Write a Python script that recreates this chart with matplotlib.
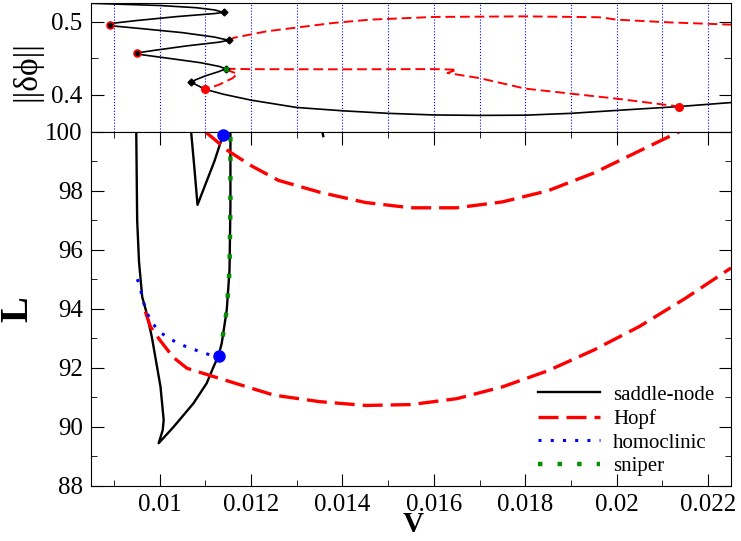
import numpy as np
import matplotlib
matplotlib.use("Agg")
import matplotlib.pyplot as plt
from matplotlib.ticker import MultipleLocator, FuncFormatter

plt.rcParams['font.family'] = 'serif'
plt.rcParams['font.serif'] = ['Liberation Serif', 'DejaVu Serif']

# ---- bottom panel data (V, L) ----
sn_V = [0.00949, 0.00951, 0.00955, 0.00962, 0.00970, 0.00983, 0.01002, 0.01009, 0.01007,
        0.00998, 0.01031, 0.01074, 0.01103, 0.01118, 0.01129, 0.01136, 0.01147, 0.01153,
        0.01155, 0.01155]
sn_L = [100.0, 97.0, 95.6, 94.4, 93.95, 93.05, 91.36, 90.23, 89.89,
        89.44, 90.0, 90.79, 91.47, 92.03, 92.41, 92.83, 93.96, 95.3,
        97.5, 100.0]
sn2_V = [0.01069, 0.01076, 0.01083, 0.01100, 0.01120, 0.01139]
sn2_L = [100.0, 98.8, 97.52, 98.2, 99.0, 99.9]
sn3_V = [0.01356, 0.01358]
sn3_L = [100.0, 99.85]

hopf1_V = [0.0110, 0.0115, 0.0120, 0.0126, 0.0135, 0.0145, 0.0155, 0.0165, 0.0175,
           0.0185, 0.0195, 0.0205, 0.02137]
hopf1_L = [100.0, 99.35, 98.85, 98.35, 97.95, 97.6, 97.42, 97.42, 97.62,
           98.0, 98.6, 99.35, 100.0]
hopf2_V = [0.00969, 0.0098, 0.0100, 0.0103, 0.0106, 0.0112, 0.0125, 0.0135, 0.0145,
           0.0155, 0.0165, 0.0175, 0.0185, 0.0195, 0.0205, 0.0215, 0.0225]
hopf2_L = [93.9, 93.39, 92.95, 92.35, 91.98, 91.69, 91.07, 90.85, 90.72,
           90.75, 90.95, 91.35, 91.9, 92.6, 93.4, 94.35, 95.38]

hom_V = [0.00951, 0.00956, 0.00962, 0.00970, 0.00983, 0.01002, 0.01027, 0.01054,
         0.01082, 0.01111, 0.01129]
hom_L = [95.0, 94.84, 94.39, 93.94, 93.53, 93.19, 92.94, 92.74, 92.58, 92.43, 92.41]

snip_V = [0.01129, 0.01136, 0.01147, 0.01153, 0.01155, 0.01155]
snip_L = [92.41, 92.83, 93.96, 95.3, 97.5, 100.0]

bt_V = [0.01129, 0.01139]
bt_L = [92.41, 99.9]

# ---- top panel data (V, ||dphi||) ----
top_V = [0.0085, 0.0100, 0.0108, 0.0112, 0.0114, 0.0112, 0.0104, 0.0095, 0.0090, 0.00892,
         0.0090, 0.0096, 0.0105, 0.0112, 0.01151, 0.0113, 0.0106, 0.0099, 0.00958, 0.00951,
         0.0096, 0.0102, 0.0109, 0.0113, 0.01145, 0.0113, 0.0110, 0.0108, 0.01069,
         0.0108, 0.0110, 0.0114, 0.0120, 0.0130, 0.0140, 0.0150, 0.0160, 0.0170, 0.0180,
         0.0190, 0.0200, 0.02137, 0.0225]
top_N = [0.5250, 0.5220, 0.5190, 0.5160, 0.5126, 0.5110, 0.5070, 0.5015, 0.4980, 0.4959,
         0.4940, 0.4905, 0.4850, 0.4790, 0.4746, 0.4720, 0.4670, 0.4610, 0.4580, 0.4566,
         0.4550, 0.4500, 0.4440, 0.4390, 0.4358, 0.4320, 0.4260, 0.4210, 0.4177,
         0.4140, 0.4077, 0.4010, 0.3930, 0.3830, 0.3785, 0.3750, 0.3728, 0.3722, 0.3725,
         0.3750, 0.3790, 0.3843, 0.3897]
thopf1_V = [0.01151, 0.01162, 0.01234, 0.0138, 0.0146, 0.0160, 0.0180, 0.0196, 0.0198,
            0.0200, 0.02115, 0.0225]
thopf1_N = [0.4746, 0.4779, 0.4868, 0.4982, 0.5027, 0.5064, 0.5072, 0.5060, 0.5045,
            0.5027, 0.4990, 0.4959]
thopf2_V = [0.01145, 0.0120, 0.0140, 0.0160, 0.0165, 0.0163, 0.0170, 0.0180, 0.0200, 0.02137]
thopf2_N = [0.4358, 0.4352, 0.4350, 0.4353, 0.4345, 0.4300, 0.4230, 0.4087, 0.3950, 0.3843]
thopf3_V = [0.01145, 0.0117, 0.0116, 0.0113, 0.0110]
thopf3_N = [0.4345, 0.4290, 0.4230, 0.4140, 0.4077]

turn_R_V = [0.0114, 0.01151, 0.01145, 0.01069]
turn_R_N = [0.5126, 0.4746, 0.4358, 0.4177]
turn_L_V = [0.00892, 0.00951]
turn_L_N = [0.4959, 0.4566]
hopf_pts_V = [0.0110, 0.02137]
hopf_pts_N = [0.4077, 0.3843]

fig = plt.figure(figsize=(7.41, 5.41), dpi=100)
ax1 = fig.add_axes([0.1228, 0.7566, 0.8637, 0.2373])
ax2 = fig.add_axes([0.1228, 0.1022, 0.8637, 0.6544])

fmt = FuncFormatter(lambda v, p: '%g' % round(v, 6))

# top panel
ax1.plot(top_V, top_N, color='black', lw=1.2)
ax1.plot(thopf1_V, thopf1_N, color='red', lw=1.4, dashes=(5, 2.5))
ax1.plot(thopf2_V, thopf2_N, color='red', lw=1.4, dashes=(5, 2.5))
ax1.plot(thopf3_V, thopf3_N, color='red', lw=1.4, dashes=(5, 2.5))
ax1.plot(turn_R_V, turn_R_N, 'D', color='black', ms=3.5)
ax1.plot(turn_L_V, turn_L_N, 'o', mfc='black', mec='red', mew=1.2, ms=5)
ax1.plot([0.01145], [0.4358], 's', color='green', ms=3)
ax1.plot(hopf_pts_V, hopf_pts_N, 'o', color='red', ms=5.5)
ax1.set_xlim(0.0085, 0.0225)
ax1.set_ylim(0.35, 0.525)
ax1.set_xticks(np.arange(0.009, 0.02250, 0.001))
ax1.grid(axis='x', color='blue', ls=':', lw=0.8)
ax1.tick_params(axis='x', length=0, labelbottom=False)
ax1.yaxis.set_major_locator(MultipleLocator(0.1))
ax1.yaxis.set_minor_locator(MultipleLocator(0.05))
ax1.yaxis.set_major_formatter(fmt)
ax1.tick_params(axis='y', which='both', direction='in', left=True, right=True,
                labelsize=18, pad=6)
ax1.tick_params(axis='y', which='major', length=9)
ax1.tick_params(axis='y', which='minor', length=5)
ax1.set_ylabel('||δϕ||', fontsize=24)
ax1.yaxis.set_label_coords(-0.075, 0.47)

# bottom panel
ax2.plot(sn_V, sn_L, color='black', lw=1.7, label='saddle-node')
ax2.plot(sn2_V, sn2_L, color='black', lw=1.7)
ax2.plot(sn3_V, sn3_L, color='black', lw=1.7)
ax2.plot(hopf1_V, hopf1_L, color='red', lw=2.4, dashes=(6, 2.4), label='Hopf')
ax2.plot(hopf2_V, hopf2_L, color='red', lw=2.4, dashes=(6, 2.4))
ax2.plot(hom_V, hom_L, color='blue', lw=2.2, dashes=(1, 3), label='homoclinic')
ax2.plot(snip_V, snip_L, color='#009000', lw=3.2, dashes=(1, 3.4), label='sniper')
ax2.plot(bt_V, bt_L, 'o', color='blue', ms=8, clip_on=False, zorder=5)
ax2.set_xlim(0.0085, 0.0225)
ax2.set_ylim(88, 100)
ax2.xaxis.set_major_locator(MultipleLocator(0.002))
ax2.xaxis.set_minor_locator(MultipleLocator(0.001))
ax2.yaxis.set_major_locator(MultipleLocator(2))
ax2.yaxis.set_minor_locator(MultipleLocator(1))
ax2.xaxis.set_major_formatter(fmt)
ax2.tick_params(which='both', direction='in', top=True, right=True, labelsize=18)
ax2.tick_params(which='major', length=9, pad=6)
ax2.tick_params(which='minor', length=4)
ax2.set_xlabel('V', fontsize=21, fontweight='bold')
ax2.set_ylabel('L', fontsize=28, fontweight='bold')
ax2.xaxis.set_label_coords(0.503, -0.071)
ax2.yaxis.set_label_coords(-0.085, 0.5)
ax2.legend(loc='upper left', bbox_to_anchor=(0.726, 0.288), bbox_transform=fig.transFigure,
           frameon=False, fontsize=15, handlelength=3.0, handletextpad=0.6,
           labelspacing=0.2, borderpad=0, borderaxespad=0)

fig.savefig('out.png', dpi=100)
